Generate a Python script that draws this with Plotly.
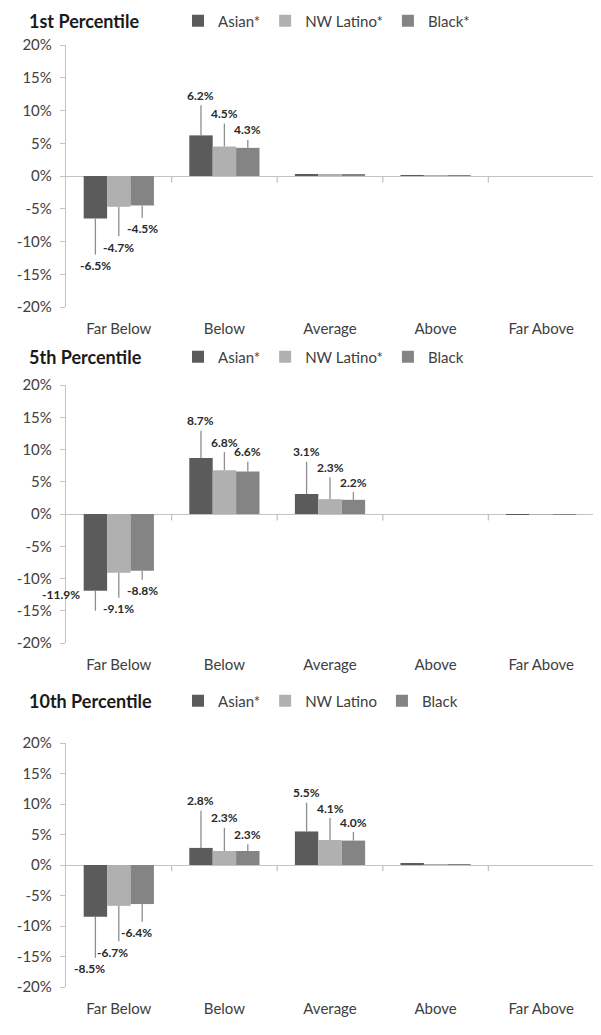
import plotly.graph_objects as go
from plotly.subplots import make_subplots

categories = ["Far Below", "Below", "Average", "Above", "Far Above"]
series_names = ["Asian", "NW Latino", "Black"]
colors = ["#5b5b5b", "#b0b0b0", "#848484"]

panel_titles = ["1st Percentile", "5th Percentile", "10th Percentile"]
legend_labels = [
    ["Asian*", "NW Latino*", "Black*"],
    ["Asian*", "NW Latino*", "Black"],
    ["Asian*", "NW Latino", "Black"],
]

# bar values (%)
p1_asian = [-6.5, 6.2, 0.3, 0.1, 0.0]
p1_latino = [-4.7, 4.5, 0.2, 0.1, 0.0]
p1_black = [-4.5, 4.3, 0.2, 0.1, 0.0]

p2_asian = [-11.9, 8.7, 3.1, 0.0, -0.1]
p2_latino = [-9.1, 6.8, 2.3, 0.0, -0.1]
p2_black = [-8.8, 6.6, 2.2, 0.0, -0.1]

p3_asian = [-8.5, 2.8, 5.5, 0.2, 0.0]
p3_latino = [-6.7, 2.3, 4.1, 0.1, 0.0]
p3_black = [-6.4, 2.3, 4.0, 0.1, 0.0]

# end points of the interval lines (%), None = no line
p1_asian_end = [-12.0, 10.8, None, None, None]
p1_latino_end = [-9.2, 8.0, None, None, None]
p1_black_end = [-6.4, 5.5, None, None, None]

p2_asian_end = [-15.0, 12.9, 8.1, None, None]
p2_latino_end = [-13.0, 9.6, 5.7, None, None]
p2_black_end = [-10.2, 8.1, 3.4, None, None]

p3_asian_end = [-15.2, 8.9, 10.2, None, None]
p3_latino_end = [-12.5, 6.1, 7.7, None, None]
p3_black_end = [-9.3, 3.4, 5.4, None, None]

panels = [
    ([p1_asian, p1_latino, p1_black], [p1_asian_end, p1_latino_end, p1_black_end]),
    ([p2_asian, p2_latino, p2_black], [p2_asian_end, p2_latino_end, p2_black_end]),
    ([p3_asian, p3_latino, p3_black], [p3_asian_end, p3_latino_end, p3_black_end]),
]

OFF = 8  # page body margin
W, H = 601 - OFF, 1035 - OFF
ML, MR = 66 - OFF, 15 - OFF
plot_w = W - ML - MR

# pixel rows (in the screenshot) of the +20% / -20% lines of each panel
panel_px = [(45, 307), (385, 643), (743, 987)]
title_px = [21, 357, 701]
# horizontal label shift of negative labels per panel
label_dx = [0, 0, -6]

BARGAP = 0.335
bar_px = plot_w / len(categories) * (1 - BARGAP) / 3

FONT = "Lato, 'Open Sans', Arial, sans-serif"


def py(px):
    return 1 - (px - OFF) / H


def pxx(px):
    return (px - OFF - ML) / plot_w


fig = make_subplots(rows=3, cols=1)

legend_ids = ["legend", "legend2", "legend3"]

for p, (vals, ends) in enumerate(panels):
    row = p + 1
    sfx = "" if row == 1 else str(row)
    for j in range(3):
        v = vals[j]
        e = ends[j]
        plus = []
        minus = []
        for val, end in zip(v, e):
            if end is None:
                plus.append(0)
                minus.append(0)
            elif end >= val:
                plus.append(end - val)
                minus.append(0)
            else:
                plus.append(0)
                minus.append(val - end)
        fig.add_trace(
            go.Bar(
                x=categories,
                y=v,
                name=legend_labels[p][j],
                marker=dict(color=colors[j], line=dict(width=0)),
                error_y=dict(
                    type="data",
                    symmetric=False,
                    array=plus,
                    arrayminus=minus,
                    color="#8e8e8e",
                    thickness=1.3,
                    width=0,
                ),
                legend=legend_ids[p],
                hoverinfo="skip",
            ),
            row=row,
            col=1,
        )
        # labels at the end of each line
        for i, (val, end) in enumerate(zip(v, e)):
            if end is None:
                continue
            xshift = (j - 1) * bar_px
            if end >= val:
                yshift = 10
            else:
                yshift = -11
                xshift += label_dx[p]
            if p == 1 and i == 0 and j == 0:
                xshift = -bar_px - 34
                yshift = 16
            fig.add_annotation(
                x=categories[i],
                y=end,
                text=f"{val:.1f}%",
                showarrow=False,
                xshift=xshift,
                yshift=yshift,
                font=dict(family=FONT, size=12, color="#2a2a2a", weight="bold"),
                xref=f"x{sfx}",
                yref=f"y{sfx}",
            )

    top, bot = panel_px[p]
    fig.layout[f"yaxis{sfx}"].update(
        domain=[py(bot), py(top)],
        range=[-20, 20],
        tickvals=[-20, -15, -10, -5, 0, 5, 10, 15, 20],
        ticktext=["-20%", "-15%", "-10%", "-5%", "0%", "5%", "10%", "15%", "20%"],
        showgrid=False,
        zeroline=True,
        zerolinecolor="#c4c4c4",
        zerolinewidth=1.3,
        showline=True,
        linecolor="#c4c4c4",
        linewidth=1.3,
        ticks="outside",
        ticklen=5,
        tickcolor="#c4c4c4",
        tickfont=dict(family=FONT, size=15, color="#404040"),
        ticklabelstandoff=5,
    )
    fig.layout[f"xaxis{sfx}"].update(
        range=[-0.5, 4.5],
        showgrid=False,
        showline=False,
        zeroline=False,
        ticks="outside",
        ticklen=8,
        tickcolor="rgba(0,0,0,0)",
        tickfont=dict(family=FONT, size=15, color="#404040"),
    )
    # category boundary ticks on the zero line
    for b in range(1, len(categories) + 1):
        fig.add_shape(
            type="line",
            x0=b - 0.5,
            x1=b - 0.5,
            y0=0,
            y1=-1.0,
            xref=f"x{sfx}",
            yref=f"y{sfx}",
            line=dict(color="#c4c4c4", width=1.3),
        )
    # panel title
    fig.add_annotation(
        x=pxx(27),
        y=py(title_px[p]),
        xref="paper",
        yref="paper",
        xanchor="left",
        yanchor="middle",
        text=panel_titles[p],
        showarrow=False,
        font=dict(family=FONT, size=18, color="#1a1a1a", weight="bold"),
    )
    # legend
    leg = dict(
        orientation="h",
        x=pxx(178),
        xanchor="left",
        y=py(title_px[p]),
        yanchor="middle",
        xref="paper",
        yref="paper",
        bgcolor="rgba(0,0,0,0)",
        font=dict(family=FONT, size=15, color="#404040"),
        itemwidth=30,
        traceorder="normal",
    )
    fig.layout[f"legend{sfx}"] = leg

fig.update_layout(
    width=W,
    height=H,
    barmode="group",
    bargap=BARGAP,
    bargroupgap=0,
    margin=dict(l=ML, r=MR, t=0, b=0, autoexpand=False),
    plot_bgcolor="white",
    paper_bgcolor="white",
    showlegend=True,
    font=dict(family=FONT),
)

fig.write_html("out.html")
